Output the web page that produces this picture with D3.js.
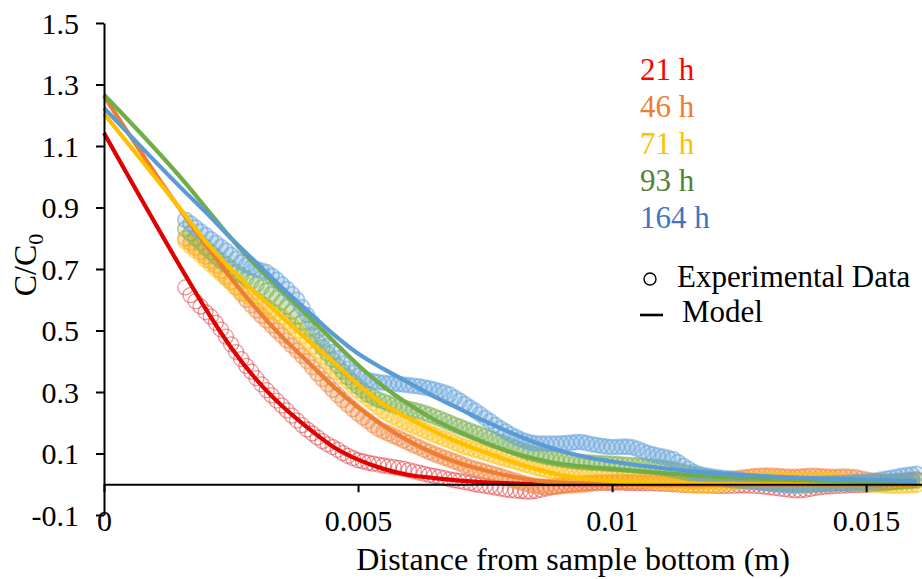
<!DOCTYPE html>
<html>
<head>
<meta charset="utf-8">
<script src="https://cdn.jsdelivr.net/npm/d3@7/dist/d3.min.js"></script>
<style>
  html, body { margin: 0; padding: 0; background: #fff; }
  svg { display: block; }
  text { font-family: "Liberation Serif", "Times New Roman", serif; }
</style>
</head>
<body>
<svg id="chart" width="922" height="579"></svg>
<script>
// ---------- data ----------
const seriesNames = ["21 h", "46 h", "71 h", "93 h", "164 h"];

// experimental data: x grid start and spacing (m)
const dataXStart = 0.0016;
const dataXStep = 0.0001;

const exp21 = [0.64,0.615,0.595,0.578,0.56,0.545,0.525,0.503,0.48,0.455,0.43,0.407,0.385,0.366,0.345,0.325,0.306,0.289,0.272,0.256,0.24,0.223,0.207,0.192,0.178,0.165,0.152,0.14,0.13,0.121,0.112,0.101,0.092,0.085,0.078,0.074,0.07,0.067,0.064,0.061,0.058,0.056,0.053,0.05,0.046,0.042,0.038,0.034,0.03,0.027,0.024,0.02,0.016,0.013,0.01,0.007,0.004,0.0,-0.003,-0.005,-0.008,-0.011,-0.014,-0.017,-0.019,-0.021,-0.022,-0.024,-0.024,-0.022,-0.018,-0.014,-0.01,-0.007,-0.004,-0.002,0.0,0.002,0.003,0.004,0.004,0.005,0.005,0.004,0.004,0.005,0.005,0.004,0.004,0.003,0.003,0.003,0.003,0.002,0.002,0.001,0.0,-0.001,-0.002,-0.003,-0.003,-0.003,-0.003,-0.004,-0.005,-0.006,-0.006,-0.005,-0.005,-0.004,-0.004,-0.004,-0.005,-0.006,-0.008,-0.01,-0.012,-0.014,-0.016,-0.018,-0.02,-0.02,-0.018,-0.015,-0.012,-0.01,-0.008,-0.007,-0.006,-0.005,-0.004,-0.003,-0.003,-0.002,-0.002,-0.001,0.0,0.001,0.003,0.005,0.008,0.01,0.012,0.014,0.016];
const exp46 = [0.80,0.785,0.77,0.755,0.74,0.725,0.71,0.693,0.675,0.658,0.64,0.62,0.60,0.582,0.565,0.548,0.532,0.516,0.50,0.484,0.467,0.451,0.435,0.418,0.40,0.38,0.36,0.342,0.325,0.307,0.29,0.274,0.258,0.244,0.23,0.217,0.205,0.192,0.18,0.172,0.165,0.157,0.15,0.142,0.135,0.127,0.12,0.112,0.105,0.098,0.092,0.086,0.08,0.074,0.068,0.061,0.055,0.05,0.046,0.041,0.036,0.031,0.026,0.021,0.016,0.011,0.006,0.001,-0.003,-0.006,-0.008,-0.009,-0.009,-0.008,-0.007,-0.005,-0.004,-0.003,-0.002,0.0,0.002,0.004,0.005,0.006,0.007,0.008,0.008,0.007,0.007,0.008,0.008,0.009,0.01,0.011,0.012,0.012,0.012,0.011,0.01,0.009,0.008,0.009,0.01,0.011,0.012,0.014,0.015,0.017,0.018,0.02,0.022,0.024,0.026,0.027,0.028,0.028,0.027,0.026,0.025,0.024,0.024,0.025,0.026,0.027,0.027,0.026,0.025,0.024,0.024,0.025,0.025,0.024,0.022,0.018,0.015,0.012,0.01,0.009,0.008,0.009,0.01,0.011,0.012,0.013,0.015];
const exp71 = [0.79,0.775,0.76,0.745,0.73,0.715,0.70,0.685,0.67,0.655,0.64,0.627,0.615,0.605,0.595,0.585,0.575,0.565,0.555,0.543,0.53,0.515,0.50,0.483,0.465,0.448,0.432,0.415,0.398,0.381,0.365,0.35,0.335,0.32,0.305,0.291,0.278,0.264,0.25,0.239,0.228,0.219,0.21,0.202,0.195,0.188,0.182,0.175,0.168,0.161,0.155,0.148,0.142,0.135,0.128,0.122,0.117,0.112,0.108,0.102,0.097,0.092,0.087,0.082,0.078,0.073,0.068,0.063,0.058,0.054,0.05,0.046,0.042,0.038,0.035,0.032,0.03,0.028,0.027,0.026,0.025,0.025,0.024,0.023,0.022,0.021,0.02,0.018,0.017,0.015,0.014,0.012,0.01,0.008,0.007,0.005,0.004,0.002,0.0,-0.002,-0.004,-0.005,-0.005,-0.004,-0.003,-0.001,0.0,0.003,0.005,0.008,0.01,0.013,0.015,0.016,0.017,0.017,0.016,0.015,0.014,0.013,0.013,0.013,0.014,0.015,0.015,0.015,0.014,0.013,0.012,0.011,0.01,0.008,0.006,0.004,0.002,0.0,-0.002,-0.003,-0.004,-0.005,-0.005,-0.005,-0.004,-0.003,-0.002];
const exp93 = [0.83,0.815,0.80,0.785,0.77,0.755,0.74,0.727,0.715,0.702,0.69,0.68,0.67,0.66,0.65,0.64,0.63,0.618,0.605,0.592,0.578,0.562,0.545,0.525,0.505,0.485,0.465,0.445,0.425,0.405,0.385,0.366,0.348,0.333,0.318,0.305,0.292,0.283,0.275,0.269,0.263,0.257,0.252,0.248,0.245,0.241,0.237,0.232,0.226,0.22,0.214,0.207,0.2,0.193,0.187,0.18,0.174,0.168,0.163,0.156,0.15,0.143,0.137,0.131,0.125,0.118,0.112,0.106,0.101,0.097,0.093,0.089,0.086,0.083,0.08,0.078,0.076,0.074,0.072,0.071,0.07,0.069,0.068,0.067,0.066,0.065,0.064,0.063,0.062,0.061,0.06,0.058,0.057,0.055,0.053,0.051,0.048,0.044,0.04,0.036,0.032,0.028,0.025,0.022,0.02,0.018,0.016,0.014,0.012,0.011,0.01,0.009,0.008,0.006,0.005,0.004,0.003,0.001,0.0,-0.001,-0.002,-0.003,-0.003,-0.003,-0.002,-0.001,0.0,0.001,0.002,0.002,0.003,0.003,0.004,0.004,0.004,0.004,0.005,0.005,0.006,0.007,0.008,0.009,0.01,0.011,0.012];
const exp164 = [0.86,0.848,0.835,0.822,0.81,0.797,0.785,0.772,0.76,0.746,0.733,0.722,0.712,0.705,0.70,0.695,0.69,0.678,0.665,0.65,0.635,0.618,0.60,0.576,0.55,0.525,0.50,0.475,0.45,0.43,0.41,0.392,0.375,0.363,0.352,0.345,0.338,0.335,0.332,0.33,0.328,0.327,0.326,0.324,0.322,0.32,0.318,0.315,0.312,0.308,0.303,0.298,0.292,0.282,0.272,0.261,0.25,0.239,0.228,0.216,0.205,0.193,0.182,0.172,0.162,0.154,0.146,0.14,0.135,0.133,0.132,0.132,0.132,0.132,0.133,0.134,0.135,0.137,0.137,0.134,0.13,0.127,0.124,0.122,0.121,0.121,0.122,0.122,0.12,0.115,0.108,0.102,0.097,0.093,0.09,0.086,0.082,0.072,0.06,0.05,0.04,0.034,0.03,0.027,0.024,0.022,0.02,0.018,0.016,0.014,0.012,0.01,0.008,0.006,0.004,0.002,0.0,-0.002,-0.003,-0.004,-0.004,-0.003,-0.002,-0.001,0.0,0.001,0.002,0.002,0.003,0.003,0.004,0.005,0.006,0.007,0.008,0.01,0.012,0.015,0.018,0.021,0.024,0.027,0.03,0.032,0.034];

// model curves
const modelX = [0, 0.0016, 0.002, 0.0025, 0.003, 0.0035, 0.004, 0.0045, 0.005, 0.0055, 0.006, 0.0065, 0.007, 0.0075, 0.008, 0.0085, 0.009, 0.0095, 0.01, 0.011, 0.012, 0.013, 0.014, 0.015, 0.016];
const model21  = [1.142,0.68,0.57,0.445,0.34,0.255,0.185,0.123,0.08,0.05,0.03,0.02,0.012,0.006,0.003,0.001,0.0005,0,0,0,0,0,0,0,0];
const model46  = [1.262,0.87,0.78,0.67,0.57,0.48,0.40,0.32,0.25,0.19,0.14,0.10,0.068,0.045,0.026,0.012,0.005,0.002,0.001,0,0,0,0,0,0];
const model71  = [1.205,0.875,0.79,0.70,0.62,0.545,0.47,0.40,0.325,0.26,0.215,0.172,0.135,0.104,0.075,0.05,0.03,0.018,0.01,0.004,0.001,0,0,0,0];
const model93  = [1.267,0.98,0.90,0.80,0.71,0.63,0.55,0.468,0.388,0.318,0.26,0.21,0.17,0.135,0.105,0.082,0.066,0.057,0.05,0.036,0.025,0.017,0.012,0.008,0.006];
const model164 = [1.224,0.95,0.885,0.80,0.72,0.64,0.565,0.49,0.425,0.375,0.33,0.285,0.245,0.205,0.168,0.135,0.108,0.088,0.074,0.052,0.036,0.026,0.019,0.014,0.011];

const expSeries = [exp21, exp46, exp71, exp93, exp164];
const modelSeries = [model21, model46, model71, model93, model164];

const xTickValues = [0, 0.005, 0.01, 0.015];
const xTickLabels = ["0", "0.005", "0.01", "0.015"];
const yTickValues = [-0.1, 0.1, 0.3, 0.5, 0.7, 0.9, 1.1, 1.3, 1.5];
const yTickLabels = ["-0.1", "0.1", "0.3", "0.5", "0.7", "0.9", "1.1", "1.3", "1.5"];

// ---------- styles ----------
const lineColors = ["#E00000", "#ED7D31", "#FFC000", "#70AD47", "#5B9BD5"];
const dotColors  = ["#E03C40", "#F08A48", "#FFC31A", "#7DB356", "#6AA5DA"];
const textColors = ["#FF0000", "#ED7D31", "#FFC000", "#548235", "#4472C4"];

const svg = d3.select("#chart");

const x = d3.scaleLinear().domain([0, 0.0161]).range([104, 922]);
const y = d3.scaleLinear().domain([-0.1, 1.5]).range([515, 23]);

// experimental circles
expSeries.forEach((vals, si) => {
  const pts = vals.map((v, i) => ({ x: dataXStart + dataXStep * i, v }));
  svg.append("g")
    .selectAll("circle")
    .data(pts)
    .join("circle")
    .attr("cx", d => x(d.x))
    .attr("cy", d => y(d.v))
    .attr("r", 7.5)
    .attr("fill", dotColors[si])
    .attr("fill-opacity", si === 0 ? 0.0 : 0.2)
    .attr("stroke", dotColors[si])
    .attr("stroke-opacity", si === 0 ? 0.55 : 0.55)
    .attr("stroke-width", si === 0 ? 1.3 : 1.8);
});

// model lines
const line = d3.line()
  .x(d => x(d[0]))
  .y(d => y(d[1]))
  .curve(d3.curveMonotoneX);

modelSeries.forEach((vals, si) => {
  svg.append("path")
    .datum(modelX.map((mx, i) => [mx, vals[i]]))
    .attr("fill", "none")
    .attr("stroke", lineColors[si])
    .attr("stroke-width", 4.2)
    .attr("stroke-linejoin", "round")
    .attr("d", line);
});

// axes
const yAxis = d3.axisLeft(y)
  .tickValues(yTickValues)
  .tickSize(8)
  .tickSizeOuter(0)
  .tickFormat((d, i) => yTickLabels[i]);
const gy = svg.append("g").attr("transform", `translate(${x(0)},0)`).call(yAxis);
gy.select(".domain").attr("stroke", "#000").attr("stroke-width", 2);
gy.selectAll(".tick line").attr("stroke", "#000").attr("stroke-width", 2);
gy.selectAll(".tick text")
  .attr("x", -25)
  .attr("dy", "0.34em")
  .attr("fill", "#000")
  .style("font-size", "30px")
  .style("font-family", '"Liberation Serif", "Times New Roman", serif');

const xAxis = d3.axisBottom(x)
  .tickValues(xTickValues)
  .tickSize(8)
  .tickSizeOuter(0)
  .tickFormat((d, i) => xTickLabels[i]);
const gx = svg.append("g").attr("transform", `translate(0,${y(0)})`).call(xAxis);
gx.select(".domain").attr("stroke", "#000").attr("stroke-width", 2);
gx.selectAll(".tick line").attr("stroke", "#000").attr("stroke-width", 2);
gx.selectAll(".tick text")
  .attr("y", 47)
  .attr("dy", 0)
  .attr("fill", "#000")
  .style("font-size", "30px")
  .style("font-family", '"Liberation Serif", "Times New Roman", serif');

// axis titles
svg.append("text")
  .attr("x", 573).attr("y", 570)
  .attr("text-anchor", "middle")
  .style("font-size", "32px")
  .text("Distance from sample bottom (m)");

const yt = svg.append("text")
  .attr("transform", "translate(36,265) rotate(-90)")
  .attr("text-anchor", "middle")
  .style("font-size", "32px");
yt.append("tspan").text("C/C");
yt.append("tspan").attr("dy", 7).style("font-size", "22px").text("0");

// legend
const legendY0 = 80, legendStep = 37;
seriesNames.forEach((name, i) => {
  svg.append("text")
    .attr("x", 640).attr("y", legendY0 + legendStep * i)
    .attr("fill", textColors[i])
    .style("font-size", "31px")
    .text(name);
});
svg.append("circle")
  .attr("cx", 650).attr("cy", 279).attr("r", 6)
  .attr("fill", "none").attr("stroke", "#000").attr("stroke-width", 1.4);
svg.append("text").attr("x", 677).attr("y", 287).style("font-size", "31px").text("Experimental Data");
svg.append("line")
  .attr("x1", 640).attr("x2", 663).attr("y1", 315).attr("y2", 315)
  .attr("stroke", "#000").attr("stroke-width", 2.6);
svg.append("text").attr("x", 682).attr("y", 322).style("font-size", "31px").text("Model");
</script>
</body>
</html>
